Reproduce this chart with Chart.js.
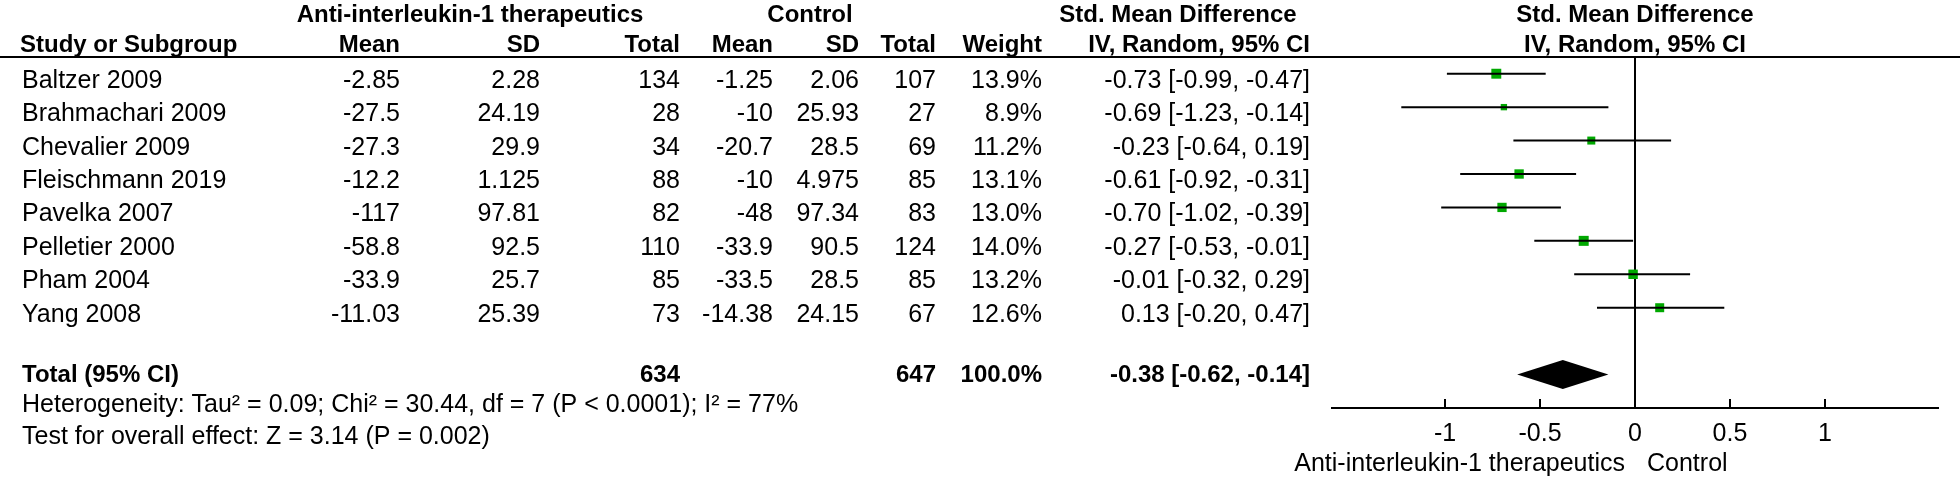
<!DOCTYPE html>
<html>
<head>
<meta charset="utf-8">
<script src="https://cdn.jsdelivr.net/npm/chart.js@4"></script>
<style>
  body { margin: 0; background: #fff; }
  #wrap { width: 1960px; height: 478px; }
</style>
</head>
<body>
<div id="wrap"><canvas id="chart" width="1960" height="478"></canvas></div>
<script>
// study data
const studies = ['Baltzer 2009', 'Brahmachari 2009', 'Chevalier 2009', 'Fleischmann 2019',
                 'Pavelka 2007', 'Pelletier 2000', 'Pham 2004', 'Yang 2008'];
const expMean = [-2.85, -27.5, -27.3, -12.2, -117, -58.8, -33.9, -11.03];
const expSD = [2.28, 24.19, 29.9, 1.125, 97.81, 92.5, 25.7, 25.39];
const expTotal = [134, 28, 34, 88, 82, 110, 85, 73];
const ctlMean = [-1.25, -10, -20.7, -10, -48, -33.9, -33.5, -14.38];
const ctlSD = [2.06, 25.93, 28.5, 4.975, 97.34, 90.5, 28.5, 24.15];
const ctlTotal = [107, 27, 69, 85, 83, 124, 85, 67];
const weights = [13.9, 8.9, 11.2, 13.1, 13.0, 14.0, 13.2, 12.6];
const smd = [-0.73, -0.69, -0.23, -0.61, -0.70, -0.27, -0.01, 0.13];
const ciLow = [-0.99, -1.23, -0.64, -0.92, -1.02, -0.53, -0.32, -0.20];
const ciHigh = [-0.47, -0.14, 0.19, -0.31, -0.39, -0.01, 0.29, 0.47];

const pooled = [-0.38, -0.62, -0.14];   // estimate, low, high
const totalExp = 634;
const totalCtl = 647;
const totalWeight = 100.0;
const xTicks = [-1, -0.5, 0, 0.5, 1];

const heterogeneity = 'Heterogeneity: Tau\u00b2 = 0.09; Chi\u00b2 = 30.44, df = 7 (P < 0.0001); I\u00b2 = 77%';
const overallEffect = 'Test for overall effect: Z = 3.14 (P = 0.002)';
const favoursLeft = 'Anti-interleukin-1 therapeutics';
const favoursRight = 'Control';

const TOTAL_ROW = 9;
const FONT = '"Liberation Sans", Arial, sans-serif';
const GREEN = '#00a800';

// right edges of table columns
const colRight = { eMean: 400, eSD: 540, eTot: 680, cMean: 773, cSD: 859, cTot: 936, wt: 1042, ci: 1310 };

function ciText(est, lo, hi) {
    return est.toFixed(2) + ' [' + lo.toFixed(2) + ', ' + hi.toFixed(2) + ']';
}

// CI whiskers as one broken line
let whiskers = [];
for (let i = 0; i < studies.length; i++) {
    whiskers.push({x: ciLow[i], y: i});
    whiskers.push({x: ciHigh[i], y: i});
    whiskers.push({x: ciHigh[i], y: null});
}

const boxes = smd.map((v, i) => ({x: v, y: i}));
// box side grows with weight; rect radius -> side = radius * sqrt(2)
const boxRadius = weights.map(w => (10 * w / 14) / Math.SQRT2);

const forestTable = {
    id: 'forestTable',
    beforeDatasetsDraw(chart) {
        const {ctx, scales: {x, y}} = chart;
        const px0 = Math.round(x.getPixelForValue(0));
        ctx.save();
        ctx.fillStyle = '#000';
        ctx.fillRect(px0 - 1, y.top, 2, y.bottom - y.top);
        ctx.restore();
    },
    afterDraw(chart) {
        const {ctx, scales: {x, y}} = chart;
        ctx.save();
        ctx.fillStyle = '#000';

        function txt(s, px, py, align, bold) {
            ctx.font = bold ? 'bold 24px ' + FONT : '25px ' + FONT;
            ctx.textAlign = align;
            ctx.textBaseline = 'alphabetic';
            ctx.fillText(s, px, py);
        }

        // header rows
        txt('Anti-interleukin-1 therapeutics', 470, 22, 'center', true);
        txt('Control', 810, 22, 'center', true);
        txt('Std. Mean Difference', 1178, 22, 'center', true);
        const mid = x.getPixelForValue(0);
        txt('Std. Mean Difference', mid, 22, 'center', true);

        const hy = 52;
        txt('Study or Subgroup', 20, hy, 'left', true);
        txt('Mean', colRight.eMean, hy, 'right', true);
        txt('SD', colRight.eSD, hy, 'right', true);
        txt('Total', colRight.eTot, hy, 'right', true);
        txt('Mean', colRight.cMean, hy, 'right', true);
        txt('SD', colRight.cSD, hy, 'right', true);
        txt('Total', colRight.cTot, hy, 'right', true);
        txt('Weight', colRight.wt, hy, 'right', true);
        txt('IV, Random, 95% CI', colRight.ci, hy, 'right', true);
        txt('IV, Random, 95% CI', mid, hy, 'center', true);

        ctx.fillRect(0, 56, chart.width, 2);

        // study rows
        for (let i = 0; i < studies.length; i++) {
            const py = y.getPixelForValue(i) + 14;
            txt(studies[i], 22, py, 'left');
            txt(String(expMean[i]), colRight.eMean, py, 'right');
            txt(String(expSD[i]), colRight.eSD, py, 'right');
            txt(String(expTotal[i]), colRight.eTot, py, 'right');
            txt(String(ctlMean[i]), colRight.cMean, py, 'right');
            txt(String(ctlSD[i]), colRight.cSD, py, 'right');
            txt(String(ctlTotal[i]), colRight.cTot, py, 'right');
            txt(weights[i].toFixed(1) + '%', colRight.wt, py, 'right');
            txt(ciText(smd[i], ciLow[i], ciHigh[i]), colRight.ci, py, 'right');
        }

        // total row
        const ty = y.getPixelForValue(TOTAL_ROW);
        txt('Total (95% CI)', 22, ty + 7, 'left', true);
        txt(String(totalExp), colRight.eTot, ty + 7, 'right', true);
        txt(String(totalCtl), colRight.cTot, ty + 7, 'right', true);
        txt(totalWeight.toFixed(1) + '%', colRight.wt, ty + 7, 'right', true);
        txt(ciText(pooled[0], pooled[1], pooled[2]), colRight.ci, ty + 7, 'right', true);

        txt(heterogeneity, 22, 412, 'left');
        txt(overallEffect, 22, 444, 'left');

        // pooled diamond
        const dl = x.getPixelForValue(pooled[1]);
        const dm = x.getPixelForValue(pooled[0]);
        const dr = x.getPixelForValue(pooled[2]);
        ctx.beginPath();
        ctx.moveTo(dl, ty);
        ctx.lineTo(dm, ty - 14.5);
        ctx.lineTo(dr, ty);
        ctx.lineTo(dm, ty + 14.5);
        ctx.closePath();
        ctx.fill();

        // x axis with inward ticks
        const ay = y.bottom;
        ctx.fillRect(x.left, ay - 1, x.right - x.left, 2);
        xTicks.forEach(t => {
            const px = Math.round(x.getPixelForValue(t));
            ctx.fillRect(px - 1, ay - 9, 2, 9);
            txt(String(t), px, 441, 'center');
        });
        txt(favoursLeft, mid - 10, 471, 'right');
        txt(favoursRight, mid + 12, 471, 'left');

        ctx.restore();
    }
};

new Chart(document.getElementById('chart'), {
    type: 'scatter',
    data: {
        datasets: [
            {
                data: whiskers,
                showLine: true,
                spanGaps: false,
                borderColor: '#000',
                borderWidth: 2,
                pointRadius: 0
            },
            {
                data: boxes,
                pointStyle: 'rect',
                pointRadius: boxRadius,
                backgroundColor: GREEN,
                borderWidth: 0
            }
        ]
    },
    options: {
        responsive: false,
        animation: false,
        layout: { padding: { left: 1331, right: 21, top: 57, bottom: 70 } },
        scales: {
            x: { type: 'linear', min: -1.6, max: 1.6, display: false },
            y: { type: 'linear', min: -0.5, max: 10, reverse: true, display: false }
        },
        plugins: {
            legend: { display: false },
            tooltip: { enabled: false }
        }
    },
    plugins: [forestTable]
});
</script>
</body>
</html>
